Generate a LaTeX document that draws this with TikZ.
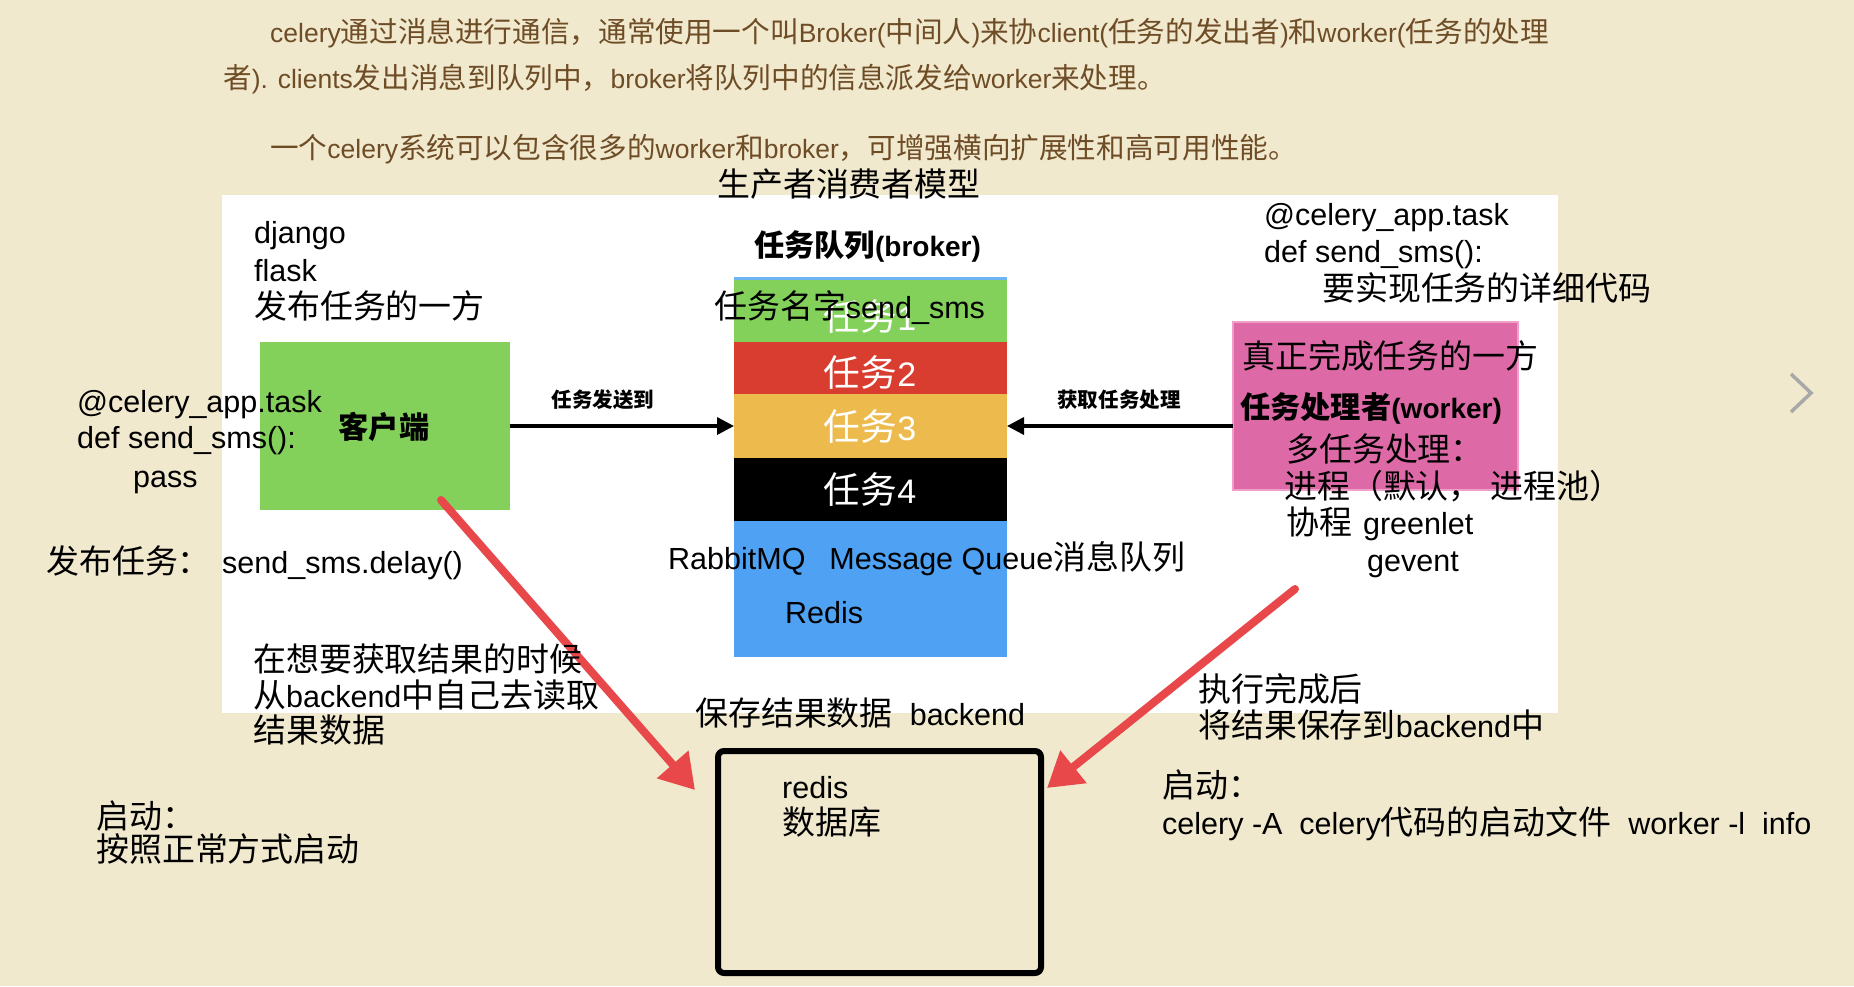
\documentclass[tikz,border=0pt]{standalone}
\usepackage{fontspec}
\setmainfont{Liberation Sans}
\newfontfamily\latf{Liberation Sans}
\newfontfamily\cjkf[Scale=1.08]{Noto Sans CJK SC}
\usetikzlibrary{arrows.meta}
\XeTeXinterchartokenstate=1
\newXeTeXintercharclass\mycjkclass
\newcount\mycjkcnt
\mycjkcnt="3000
\loop \XeTeXcharclass\mycjkcnt=\mycjkclass \advance\mycjkcnt by 1 \ifnum\mycjkcnt<"3040 \repeat
\mycjkcnt="4E00
\loop \XeTeXcharclass\mycjkcnt=\mycjkclass \advance\mycjkcnt by 1 \ifnum\mycjkcnt<"A000 \repeat
\mycjkcnt="FF00
\loop \XeTeXcharclass\mycjkcnt=\mycjkclass \advance\mycjkcnt by 1 \ifnum\mycjkcnt<"FF61 \repeat
\XeTeXinterchartoks 0 \mycjkclass = {\cjkf}
\XeTeXinterchartoks 4095 \mycjkclass = {\cjkf}
\XeTeXinterchartoks \mycjkclass 0 = {\latf}
\XeTeXinterchartoks \mycjkclass 4095 = {\latf}
\newcommand\dgap{\hspace{24pt}}
\definecolor{bgc}{RGB}{241,233,206}
\definecolor{topbrown}{RGB}{110,76,38}
\definecolor{cgreen}{RGB}{131,209,91}
\definecolor{cred}{RGB}{217,61,48}
\definecolor{cyellow}{RGB}{237,186,77}
\definecolor{cblue}{RGB}{78,161,243}
\definecolor{lblue}{RGB}{110,180,240}
\definecolor{cpink}{RGB}{221,106,167}
\definecolor{lpink}{RGB}{240,160,200}
\definecolor{arrred}{RGB}{232,72,74}
\definecolor{chev}{RGB}{168,168,168}
\begin{document}
\begin{tikzpicture}[x=1pt,y=-1pt,
  txt/.style={anchor=base west, inner sep=0pt, font=\fontsize{30.5}{36}\selectfont},
  toptxt/.style={anchor=base west, inner sep=0pt, text=topbrown, font=\fontsize{26.5}{32}\selectfont},
  boldtxt/.style={anchor=base west, inner sep=0pt, font=\fontsize{28}{34}\selectfont\bfseries},
  tasklbl/.style={anchor=base, inner sep=0pt, text=white, font=\fontsize{34}{40}\selectfont},
  arrlbl/.style={anchor=base, inner sep=0pt, font=\fontsize{19}{24}\selectfont\bfseries},
  boxn/.style={anchor=north west, inner sep=0pt, outer sep=0pt, draw=none},
  blkarrow/.style={line width=3.5pt, -{Triangle[length=17pt,width=17pt]}},
  redarrow/.style={arrred, line width=8pt, line cap=round, -{Triangle[length=34pt,width=40pt]}}
]
\useasboundingbox (0,0) rectangle (1854,986);
\fill[bgc] (0,0) rectangle (1854,986);
\fill[white] (222,195) rectangle (1558,713);

% top paragraph
\node[toptxt] (t1) at (270,42) {celery通过消息进行通信，通常使用一个叫Broker(中间人)来协client(任务的发出者)和worker(任务的处理};
\node[toptxt] (t2) at (223,88) {者). clients发出消息到队列中，broker将队列中的信息派发给worker来处理。};
\node[toptxt] (t3) at (270,158) {一个celery系统可以包含很多的worker和broker，可增强横向扩展性和高可用性能。};

% boxes
\node[boxn, fill=cgreen, minimum width=250pt, minimum height=168pt] (client) at (260,342) {};
\fill[lblue] (734,277) rectangle (1007,280);
\node[boxn, fill=cgreen, minimum width=273pt, minimum height=62pt] (q1) at (734,280) {};
\node[boxn, fill=cred, minimum width=273pt, minimum height=52pt] (q2) at (734,342) {};
\node[boxn, fill=cyellow, minimum width=273pt, minimum height=64pt] (q3) at (734,394) {};
\node[boxn, fill=black, minimum width=273pt, minimum height=63pt] (q4) at (734,458) {};
\node[boxn, fill=cblue, minimum width=273pt, minimum height=136pt] (q5) at (734,521) {};
\node[boxn, fill=cpink, draw=lpink, line width=1.5pt, minimum width=285pt, minimum height=168pt] (worker) at (1233,322) {};
\node[anchor=north west, inner sep=0pt, outer sep=0pt, draw=black, line width=6pt, rounded corners=6pt, minimum width=323pt, minimum height=222pt] (redisbox) at (718,751) {};

% black arrows
\draw[blkarrow] (client.east) -- (q3.west);
\draw[blkarrow] (worker.west |- q3.east) -- (q3.east);
\node[arrlbl] (lblsend) at (603,407) {任务发送到};
\node[arrlbl] (lblget) at (1119,407) {获取任务处理};

% red arrows
\coordinate (r1s) at (441,500);
\coordinate (r1e) at (695,790);
\coordinate (r2s) at (1295,589);
\coordinate (r2e) at (1047,788);
\draw[redarrow] (r1s) -- (r1e);
\draw[redarrow] (r2s) -- (r2e);

% queue labels
\node[tasklbl] (k1) at (870,330) {任务1};
\node[tasklbl] (k2) at (870,386) {任务2};
\node[tasklbl] (k3) at (870,440) {任务3};
\node[tasklbl] (k4) at (870,503) {任务4};
\node[txt] (tname) at (714,318) {任务名字send\_sms};
\node[boldtxt] (qtitle) at (754,256) {任务队列(broker)};
\node[txt] (title) at (717,196) {生产者消费者模型};
\node[txt] (rmq) at (668,569) {RabbitMQ\dgap Message Queue消息队列};
\node[txt] (redisq) at (785,623) {Redis};

% client side
\node[anchor=base, inner sep=0pt, font=\fontsize{28}{34}\selectfont\bfseries] (clbl) at (384,438) {客户端};
\node[txt] (dj) at (254,243) {django};
\node[txt] (fl) at (254,281) {flask};
\node[txt] (pub) at (254,318) {发布任务的一方};
\node[txt] (dec1) at (77,412) {@celery\_app.task};
\node[txt] (def1) at (77,448) {def send\_sms():};
\node[txt] (pass) at (133,487) {pass};
\node[txt] (pubt) at (46,573) {发布任务：};
\node[txt] (delay) at (222,573) {send\_sms.delay()};
\node[txt] (g1) at (253,671) {在想要获取结果的时候};
\node[txt] (g2) at (253,707) {从backend中自己去读取};
\node[txt] (g3) at (253,742) {结果数据};
\node[txt] (st1) at (96,828) {启动：};
\node[txt] (st2) at (96,861) {按照正常方式启动};

% backend
\node[txt] (save) at (695,725) {保存结果数据\ \ backend};
\node[txt] (rd1) at (782,798) {redis};
\node[txt] (rd2) at (782,834) {数据库};

% worker side
\node[txt] (dec2) at (1264,225) {@celery\_app.task};
\node[txt] (def2) at (1264,262) {def send\_sms():};
\node[txt] (impl) at (1322,300) {要实现任务的详细代码};
\node[txt] (w1) at (1242,368) {真正完成任务的一方};
\node[boldtxt] (w2) at (1240,418) {任务处理者(worker)};
\node[txt] (w3) at (1286,461) {多任务处理：};
\node[txt] (w4) at (1284,498) {进程（默认，\ 进程池）};
\node[txt] (w5) at (1286,534) {协程\hspace{11pt}greenlet};
\node[txt] (w6) at (1367,571) {gevent};
\node[txt] (e1) at (1198,701) {执行完成后};
\node[txt] (e2) at (1198,737) {将结果保存到backend中};
\node[txt] (st3) at (1162,797) {启动：};
\node[txt] (st4) at (1162,834) {celery -A\ \ celery代码的启动文件\ \ worker -l\ \ info};

% chevron
\draw[chev, line width=3.5pt] (1791,374) -- (1811,393) -- (1791,412);
\end{tikzpicture}
\end{document}
